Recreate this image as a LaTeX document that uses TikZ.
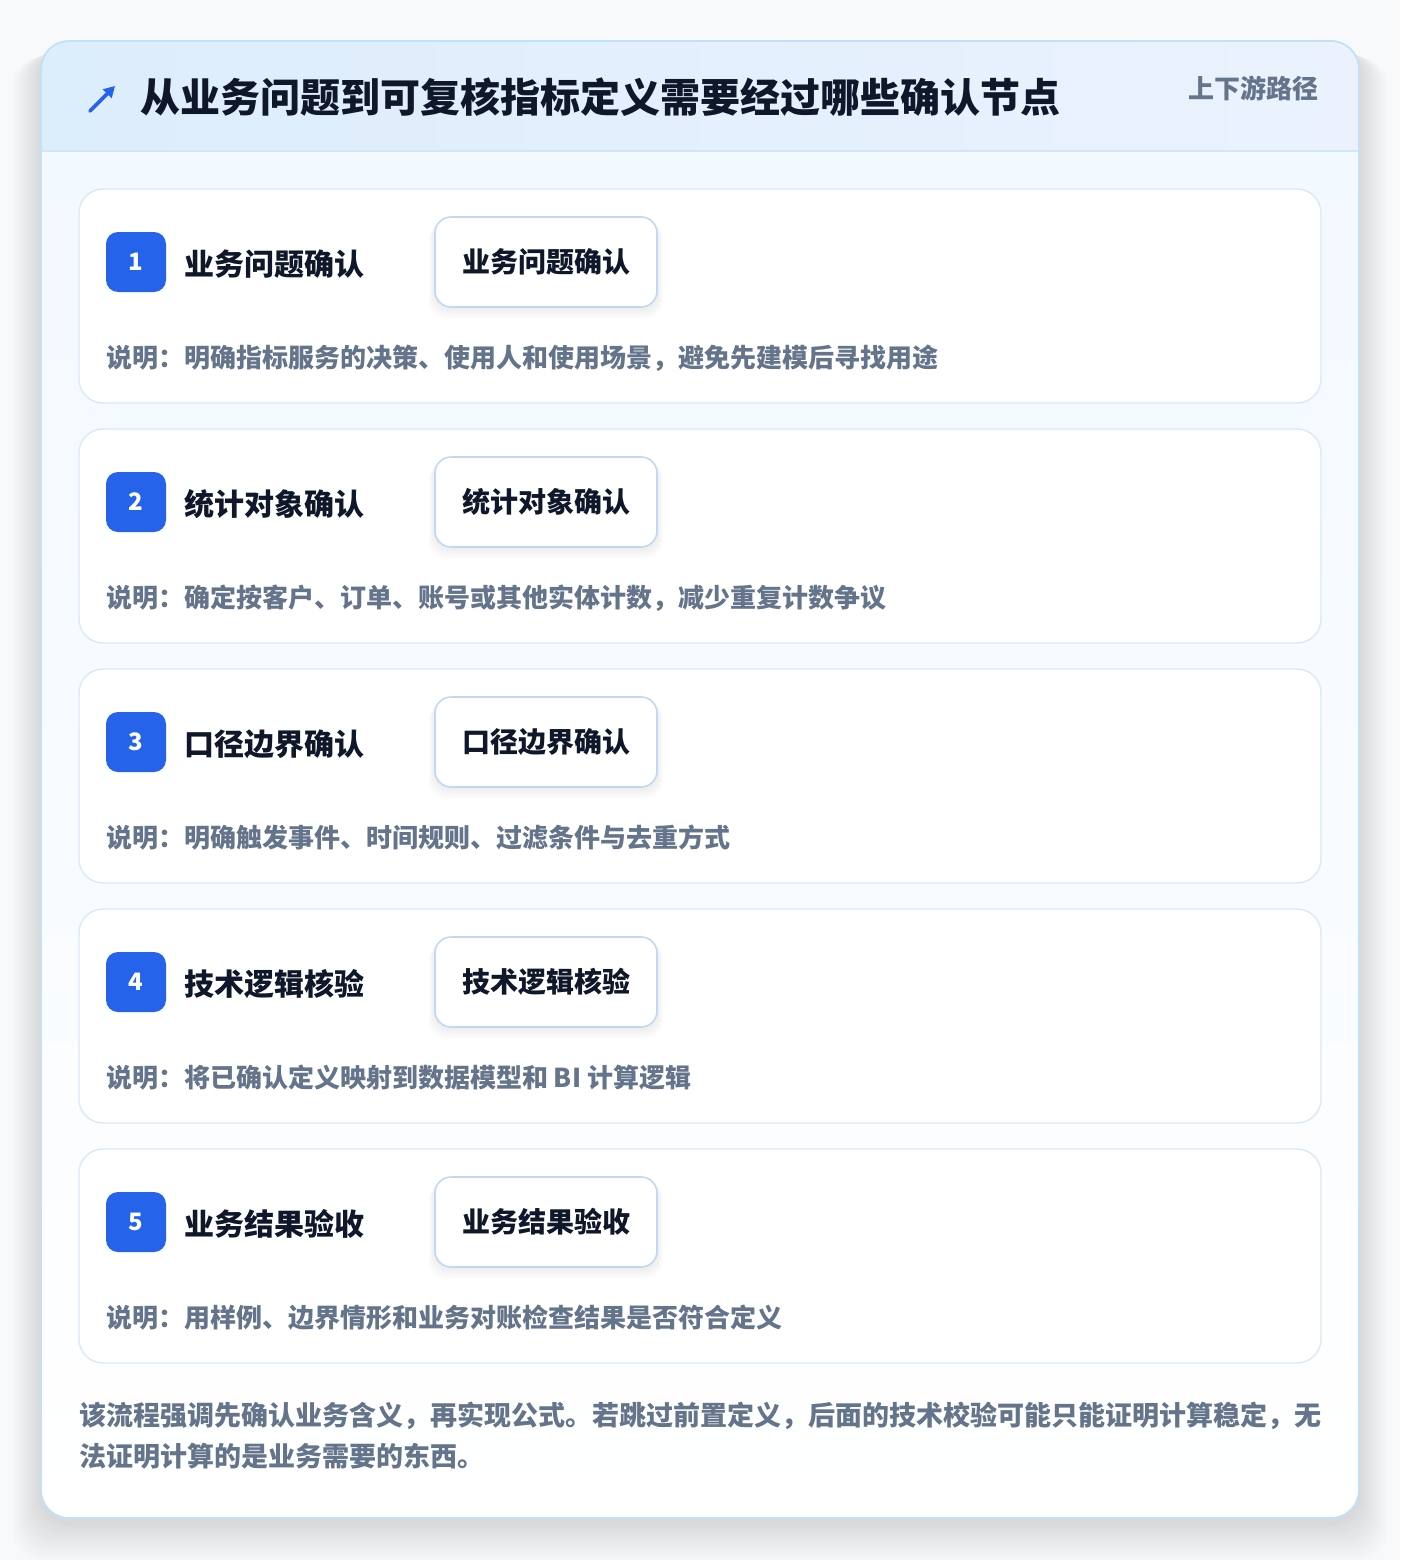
\documentclass[tikz,border=0pt]{standalone}
\usepackage{fontspec}
\setmainfont{Noto Sans CJK SC}
\newfontfamily\cjk{Noto Sans CJK SC}
\usetikzlibrary{arrows.meta}
\definecolor{pagebg}{HTML}{F8F9FA}
\definecolor{cardborder}{HTML}{C3E1F6}
\definecolor{cardtop}{HTML}{F1F8FF}
\definecolor{hdrL}{HTML}{DCEDFC}
\definecolor{hdrR}{HTML}{EBF2FD}
\definecolor{hdrline}{HTML}{D3E6F8}
\definecolor{ink}{HTML}{0F172A}
\definecolor{slate}{HTML}{64748B}
\definecolor{accent}{HTML}{2563EB}
\definecolor{stepborder}{HTML}{D9E9FA}
\definecolor{pillborder}{HTML}{BFD8F6}
\tikzset{
  txt/.style={inner sep=0pt, outer sep=0pt},
  titletxt/.style={txt, anchor=base west, text=ink, font=\cjk\bfseries\fontsize{40}{40}\selectfont},
  sidetxt/.style={txt, anchor=base west, text=slate, font=\cjk\bfseries\fontsize{26}{26}\selectfont},
  steptitle/.style={txt, anchor=base west, text=ink, font=\cjk\bfseries\fontsize{30}{30}\selectfont},
  desctxt/.style={txt, anchor=base west, text=slate, font=\cjk\bfseries\fontsize{26}{26}\selectfont},
  foottxt/.style={txt, anchor=base west, text=slate, font=\cjk\bfseries\fontsize{27}{27}\selectfont},
  badge/.style={txt, fill=accent, rounded corners=12pt, minimum width=60pt, minimum height=60pt, text=white, font=\cjk\bfseries\fontsize{24}{24}\selectfont},
  pill/.style={txt, draw=pillborder, line width=1.6pt, fill=white, rounded corners=16pt, minimum width=222pt, minimum height=90pt, text=ink, font=\cjk\bfseries\fontsize{28}{28}\selectfont},
  stepcard/.style={draw=stepborder, line width=1.4pt, top color=white!97!cardtop, bottom color=white, rounded corners=24pt},
  iconline/.style={accent, line width=3.6pt, line cap=round, -{Triangle[length=11pt,width=12pt]}},
}
\begin{document}
\begin{tikzpicture}[x=1pt,y=-1pt]
\useasboundingbox (0,0) rectangle (1400,1560);
\fill[pagebg] (0,0) rectangle (1400,1560);
% soft shadow of main card
\foreach \k in {1,...,16} {
  \fill[black, opacity=0.006, rounded corners=30pt]
    (41-1.8*\k, 41+4+0.8*\k) rectangle (1359+1.8*\k, 1518+4+2.4*\k);
}
% main card
\path[top color=cardtop, bottom color=white, rounded corners=28pt] (41,41) rectangle (1359,1518);
\begin{scope}
  \clip[rounded corners=28pt] (41,41) rectangle (1359,1518);
  \fill[left color=hdrL, right color=hdrR] (41,41) rectangle (1359,151);
\end{scope}
\draw[hdrline, line width=1.5pt] (41,151) -- (1359,151);
\draw[cardborder, line width=1.8pt, rounded corners=28pt] (41,41) rectangle (1359,1518);
% header
\coordinate (iconA) at (90,111);
\coordinate (iconB) at (115,86);
\draw[iconline] (iconA) -- (iconB);
\node[titletxt] (title) at (140,113) {从业务问题到可复核指标定义需要经过哪些确认节点};
\node[sidetxt] (side) at (1188,99) {上下游路径};
% steps
\foreach \i/\t/\d in {
  1/业务问题确认/说明：明确指标服务的决策、使用人和使用场景，避免先建模后寻找用途,
  2/统计对象确认/说明：确定按客户、订单、账号或其他实体计数，减少重复计数争议,
  3/口径边界确认/说明：明确触发事件、时间规则、过滤条件与去重方式,
  4/技术逻辑核验/说明：将已确认定义映射到数据模型和 BI 计算逻辑,
  5/业务结果验收/说明：用样例、边界情形和业务对账检查结果是否符合定义} {
  \pgfmathsetmacro\tp{189+(\i-1)*240}
  \path[stepcard] (79,\tp) rectangle (1321,\tp+214);
  \node[badge] (badge\i) at (136,\tp+73) {\i};
  \node[steptitle] (stitle\i) at (184,\tp+86) {\t};
  \foreach \s in {1,...,6} {
    \fill[black, opacity=0.011, rounded corners=18pt] (435-\s,\tp+28+0.8*\s) rectangle (657+\s,\tp+118+2*\s);
  }
  \node[pill] (pill\i) at (546,\tp+73) {\t};
  \node[desctxt] (desc\i) at (106,\tp+178) {\d};
}
% footer
\node[foottxt] (foot1) at (79,1425) {该流程强调先确认业务含义，再实现公式。若跳过前置定义，后面的技术校验可能只能证明计算稳定，无};
\node[foottxt] (foot2) at (79,1466) {法证明计算的是业务需要的东西。};
\end{tikzpicture}
\end{document}
